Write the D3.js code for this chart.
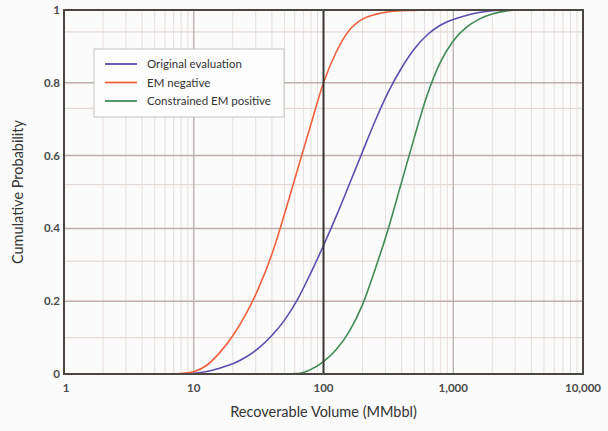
<!DOCTYPE html>
<html>
<head>
<script src="https://d3js.org/d3.v7.min.js"></script>
<style>
body { margin: 0; background: #fbfbfb; }
text { font-family: Lato, "Open Sans", sans-serif; }
</style>
</head>
<body>
<div id="chart"></div>
<script>
var width = 608;
var height = 431;

// values: volume (MMbbl) and cumulative probability per series
var volumes = [1, 6.31, 7.94, 10, 12.6, 15.8, 20, 25.1, 31.6, 39.8, 50.1, 63.1, 79.4, 100, 125.9,
  158.5, 199.5, 251.2, 316.2, 398.1, 501.2, 631, 794.3, 1000, 1259, 1585, 1995, 2512, 3162, 10000];

var originalProb = [0, 0, 0, 0.002, 0.007, 0.016, 0.028, 0.046, 0.071, 0.105, 0.148, 0.205, 0.276, 0.353, 0.435,
  0.522, 0.61, 0.697, 0.775, 0.84, 0.893, 0.932, 0.958, 0.974, 0.985, 0.993, 0.998, 1, 1, 1];

var negativeProb = [0, 0, 0.001, 0.006, 0.024, 0.058, 0.105, 0.163, 0.236, 0.327, 0.44, 0.562, 0.682, 0.8, 0.886,
  0.945, 0.975, 0.988, 0.995, 0.998, 0.999, 1, 1, 1, 1, 1, 1, 1, 1, 1];

var positiveProb = [0, 0, 0, 0, 0, 0, 0, 0, 0, 0, 0, 0.001, 0.012, 0.034, 0.068,
  0.118, 0.19, 0.29, 0.4, 0.525, 0.65, 0.767, 0.856, 0.915, 0.952, 0.975, 0.989, 0.997, 1, 1];

var seriesNames  = ["Original evaluation", "EM negative", "Constrained EM positive"];
var seriesColors = ["#5a4fae", "#f0603e", "#3f8a55"];

var xTicks = [1, 10, 100, 1000, 10000];
var xTickLabels = ["1", "10", "100", "1,000", "10,000"];
var yTicks = [0, 0.2, 0.4, 0.6, 0.8, 1];
var yTickLabels = ["0", "0.2", "0.4", "0.6", "0.8", "1"];
var yMinorTicks = [0.1, 0.31, 0.52, 0.73, 0.94];

var margin = {top: 10, right: 25, bottom: 57, left: 64};

var svg = d3.select("#chart")
  .append("svg")
  .attr("width", width)
  .attr("height", height);

var x = d3.scaleLog()
  .domain([1, 10000])
  .range([margin.left, width - margin.right]);

var y = d3.scaleLinear()
  .domain([0, 1])
  .range([height - margin.bottom, margin.top]);

// minor vertical grid
var minorX = [];
[1, 10, 100, 1000].forEach(function (d) {
  for (var k = 2; k <= 9; k++) minorX.push(d * k);
});

svg.append("g")
  .selectAll("line")
  .data(minorX)
  .enter().append("line")
  .attr("x1", function (d) { return x(d); })
  .attr("x2", function (d) { return x(d); })
  .attr("y1", y(0))
  .attr("y2", y(1))
  .style("stroke", "#e6e0dd")
  .style("stroke-width", 1);

// minor horizontal grid
svg.append("g")
  .selectAll("line")
  .data(yMinorTicks)
  .enter().append("line")
  .attr("x1", x(1))
  .attr("x2", x(10000))
  .attr("y1", function (d) { return y(d); })
  .attr("y2", function (d) { return y(d); })
  .style("stroke", "#e3d9d5")
  .style("stroke-width", 1.2);

// major grid
svg.append("g")
  .selectAll("line")
  .data([10, 1000])
  .enter().append("line")
  .attr("x1", function (d) { return x(d); })
  .attr("x2", function (d) { return x(d); })
  .attr("y1", y(0))
  .attr("y2", y(1))
  .style("stroke", "#b9adaa")
  .style("stroke-width", 1.3);

svg.append("g")
  .selectAll("line")
  .data(yTicks.slice(1, -1))
  .enter().append("line")
  .attr("x1", x(1))
  .attr("x2", x(10000))
  .attr("y1", function (d) { return y(d); })
  .attr("y2", function (d) { return y(d); })
  .style("stroke", "#bcaeaa")
  .style("stroke-width", 1.5);

// curves
var series = [originalProb, negativeProb, positiveProb];

var line = d3.line()
  .x(function (d) { return x(d[0]); })
  .y(function (d) { return y(d[1]); })
  .curve(d3.curveMonotoneX);

svg.append("g")
  .selectAll("path")
  .data(series)
  .enter().append("path")
  .attr("d", function (p) { return line(d3.zip(volumes, p)); })
  .attr("fill", "none")
  .style("stroke", function (p, i) { return seriesColors[i]; })
  .style("stroke-width", 1.6);

// dark line at 100
svg.append("line")
  .attr("x1", x(100)).attr("x2", x(100))
  .attr("y1", y(0)).attr("y2", y(1))
  .style("stroke", "#3a3533")
  .style("stroke-width", 2);

// frame
svg.append("rect")
  .attr("x", x(1))
  .attr("y", y(1))
  .attr("width", x(10000) - x(1))
  .attr("height", y(0) - y(1))
  .attr("fill", "none")
  .style("stroke", "#4d4542")
  .style("stroke-width", 2);

// tick labels
svg.append("g")
  .selectAll("text")
  .data(xTicks)
  .enter().append("text")
  .attr("x", function (d) { return x(d) + (d === 1 ? 2 : 0); })
  .attr("y", y(0) + 18)
  .attr("text-anchor", "middle")
  .attr("font-size", 11.5)
  .attr("font-weight", "bold")
  .attr("fill", "#4a4a4a")
  .text(function (d, i) { return xTickLabels[i]; });

svg.append("g")
  .selectAll("text")
  .data(yTicks)
  .enter().append("text")
  .attr("x", x(1) - 4)
  .attr("y", function (d) { return y(d) + 4; })
  .attr("text-anchor", "end")
  .attr("font-size", 11.5)
  .attr("font-weight", "bold")
  .attr("fill", "#4a4a4a")
  .text(function (d, i) { return yTickLabels[i]; });

// axis titles
svg.append("text")
  .attr("x", x(100))
  .attr("y", 417)
  .attr("text-anchor", "middle")
  .attr("font-size", 14.5)
  .attr("fill", "#333")
  .text("Recoverable Volume (MMbbl)");

svg.append("text")
  .attr("transform", "translate(23," + ((y(0) + y(1)) / 2) + ") rotate(-90)")
  .attr("text-anchor", "middle")
  .attr("font-size", 14.5)
  .attr("fill", "#333")
  .text("Cumulative Probability");

// legend
var legend = svg.append("g").attr("transform", "translate(94,49)");

legend.append("rect")
  .attr("width", 190)
  .attr("height", 68)
  .attr("fill", "#fdfdfd")
  .style("stroke", "#c8c4c2")
  .style("stroke-width", 1);

var items = legend.selectAll("g.item")
  .data(seriesNames)
  .enter().append("g")
  .attr("class", "item")
  .attr("transform", function (d, i) { return "translate(0," + (15 + i * 18.5) + ")"; });

items.append("line")
  .attr("x1", 11).attr("x2", 43)
  .style("stroke", function (d, i) { return seriesColors[i]; })
  .style("stroke-width", 1.8);

items.append("text")
  .attr("x", 53)
  .attr("y", 4)
  .attr("font-size", 11.5)
  .attr("fill", "#333")
  .text(function (d) { return d; });
</script>
</body>
</html>
